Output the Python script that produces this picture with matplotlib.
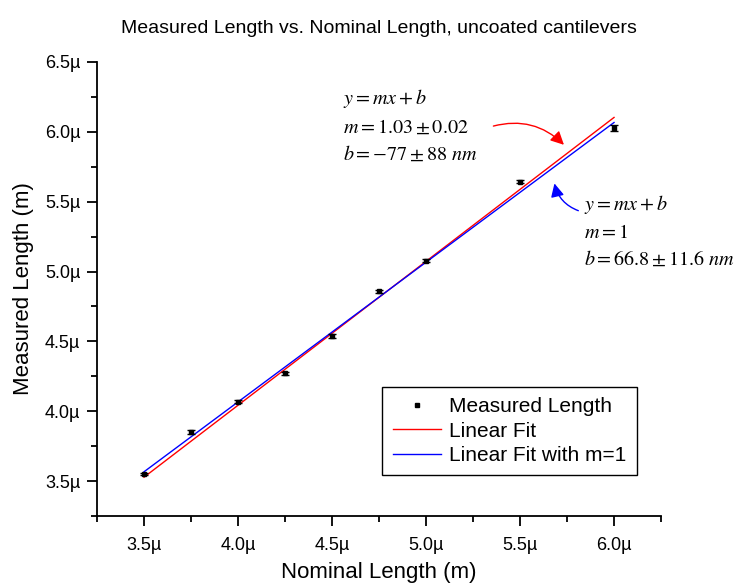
import matplotlib
matplotlib.use("Agg")
import numpy as np
import matplotlib.pyplot as plt
from matplotlib.ticker import FuncFormatter, MultipleLocator

plt.rcParams["font.family"] = ["Liberation Sans", "DejaVu Sans"]
plt.rcParams["mathtext.fontset"] = "stix"

# ── datos (en micrómetros) ───────────────────────────────────────────────────
nominal = [3.5, 3.75, 4.0, 4.25, 4.5, 4.75, 5.0, 5.5, 6.0]
measured = [3.550, 3.852, 4.069, 4.271, 4.536, 4.859, 5.079, 5.643, 6.026]
measured_err = [0.008, 0.014, 0.012, 0.008, 0.015, 0.010, 0.010, 0.012, 0.020]

fit_m, fit_b = 1.03, -0.077      # ajuste libre
fix_m, fix_b = 1.0, 0.0668       # ajuste con m=1
fit_range = [3.5, 6.0]

# ── figura ───────────────────────────────────────────────────────────────────
fig = plt.figure(figsize=(7.39, 5.88), dpi=100)
ax = fig.add_axes([0.1313, 0.1224, 0.7632, 0.7722])

ax.plot(nominal, measured, "s", color="black", markersize=3,
        label="Measured Length", zorder=4)
ax.errorbar(nominal, measured, yerr=measured_err, fmt="none", ecolor="black",
            capsize=3, elinewidth=1, capthick=1, zorder=3)

xf = np.array(fit_range)
ax.plot(xf, fit_m * xf + fit_b, color="red", linewidth=1, label="Linear Fit")
ax.plot(xf, fix_m * xf + fix_b, color="blue", linewidth=1,
        label="Linear Fit with m=1")

# ── formato ──────────────────────────────────────────────────────────────────
ax.set_xlim(3.25, 6.25)
ax.set_ylim(3.25, 6.5)
ax.xaxis.set_major_locator(MultipleLocator(0.5))
ax.xaxis.set_minor_locator(MultipleLocator(0.25))
ax.yaxis.set_major_locator(MultipleLocator(0.5))
ax.yaxis.set_minor_locator(MultipleLocator(0.25))
fmt = FuncFormatter(lambda v, p: f"{v:.1f}µ")
ax.xaxis.set_major_formatter(fmt)
ax.yaxis.set_major_formatter(fmt)

for s in ["top", "right"]:
    ax.spines[s].set_visible(False)
for s in ["left", "bottom"]:
    ax.spines[s].set_linewidth(1.3)
ax.tick_params(which="major", direction="out", length=7, width=1.3,
               labelsize=13, pad=5)
ax.tick_params(axis="x", which="major", pad=8)
ax.tick_params(which="minor", direction="out", length=4, width=1.3)

ax.set_xlabel("Nominal Length (m)", fontsize=16, labelpad=6)
ax.set_ylabel("Measured Length (m)", fontsize=16, labelpad=8)
ax.set_title("Measured Length vs. Nominal Length, uncoated cantilevers",
             fontsize=14, pad=21)

leg = ax.legend(loc="upper right", bbox_to_anchor=(0.957, 0.284),
                fontsize=15, fancybox=False, edgecolor="black",
                framealpha=1, handlelength=2.3, labelspacing=0.25,
                borderpad=0.5, handletextpad=0.4, borderaxespad=0)
leg.get_frame().set_linewidth(1)

# ── anotaciones ──────────────────────────────────────────────────────────────
tk = dict(fontsize=14.5, va="center", ha="left")
ax.text(4.56, 6.236, r"$y=mx+b$", **tk)
ax.text(4.56, 6.036, r"$m=1.03\pm0.02$", **tk)
ax.text(4.56, 5.843, r"$b=-77\pm88\ nm$", **tk)

ax.text(5.84, 5.479, r"$y=mx+b$", **tk)
ax.text(5.84, 5.279, r"$m=1$", **tk)
ax.text(5.84, 5.086, r"$b=66.8\pm11.6\ nm$", **tk)

ax.annotate("", xy=(5.744, 5.893), xytext=(5.344, 6.036),
            arrowprops=dict(arrowstyle="-|>", color="red", lw=1,
                            mutation_scale=20,
                            connectionstyle="arc3,rad=-0.3"))
ax.annotate("", xy=(5.68, 5.65), xytext=(5.824, 5.429),
            arrowprops=dict(arrowstyle="-|>", color="blue", lw=1,
                            mutation_scale=20,
                            connectionstyle="arc3,rad=-0.3"))

plt.savefig("out.png", dpi=100)
plt.close()
